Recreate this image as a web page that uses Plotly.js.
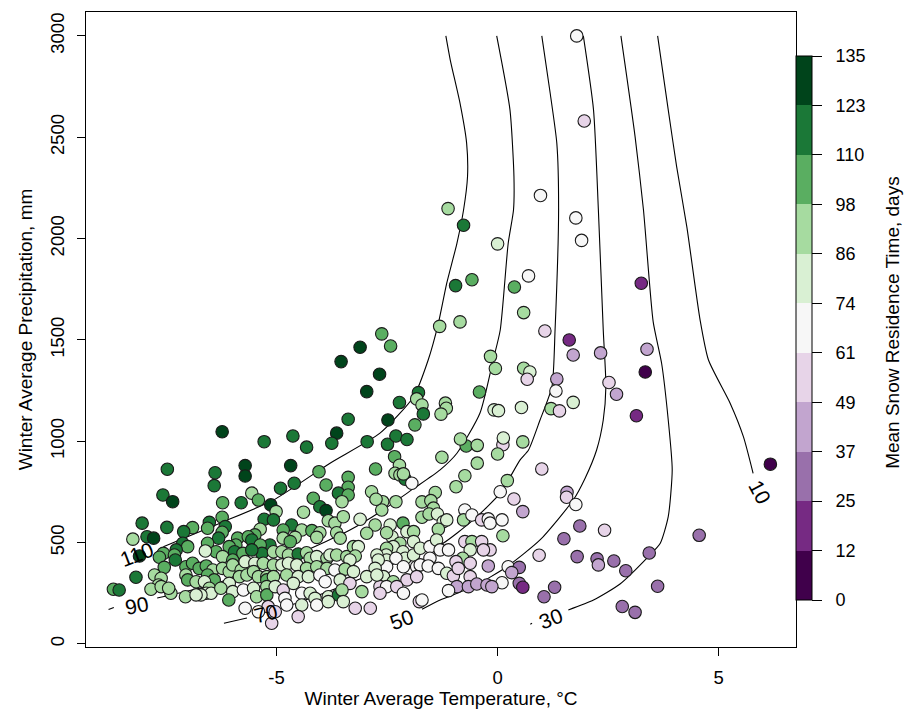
<!DOCTYPE html>
<html>
<head>
<meta charset="utf-8">
<script src="https://cdn.plot.ly/plotly-3.0.1.min.js"></script>
<style>html,body{margin:0;padding:0;background:#fff;}#chart{width:908px;height:712px;}</style>
</head>
<body>
<div id="chart"></div>
<script>
// ---------------- DATA ----------------
// Winter average temperature (°C) of each site
const winterTempC = [
  1.79,1.96,0.97,1.77,1.90,-1.12,-0.77,0.00,-0.95,-0.58,
  0.38,0.70,3.25,0.59,-0.85,-1.31,1.07,1.62,1.71,2.33,
  3.38,3.34,-0.16,-0.05,0.59,0.73,0.67,1.34,1.32,2.52,
  2.69,3.14,-0.41,-0.08,0.02,0.54,1.21,1.40,1.71,-1.79,
  -1.83,-1.71,-1.68,-1.18,-1.16,-1.28,
  1.00,1.57,1.56,1.77,1.86,2.42,1.50,0.94,1.80,2.25,
  2.28,2.63,2.90,3.43,4.56,3.62,2.82,3.11,1.29,1.05,
  6.17,
  -0.71,-0.46,-0.84,0.12,0.00,0.57,0.13,-2.33,-2.22,-2.32,
  -2.21,-2.09,-1.94,-1.26,-0.46,-0.74,-0.94,0.22,0.06,0.37,
  0.57,-1.41,-1.71,-1.51,-1.45,-2.30,-2.60,-2.62,-1.71,-1.55,
  -1.36,-1.23,-1.15,-1.34,-0.74,-0.77,-0.58,-0.36,-0.21,-0.17,
  0.10,0.12,-2.43,-2.14,-2.05,-1.90,-2.39,-1.90,-2.21,-2.36,
  -2.51,-2.52,-2.51,-2.14,-2.09,-1.90,-1.75,-1.53,-1.38,-1.53,
  -1.30,-1.11,-2.30,-0.74,-0.58,-0.36,-0.17,-0.32,-0.62,-0.79,
  -0.94,-0.62,-0.21,-2.51,-2.13,-1.83,-1.75,-1.57,-1.34,-1.15,
  -1.00,-0.89,-0.62,0.24,0.49,0.32,0.49,0.57,0.10,-0.92,
  -0.66,-0.47,-0.24,-0.13,-1.11,-2.58,-2.36,-2.05,-1.83,-2.66,
  -2.51,-2.28,-2.13,-1.77,-1.71,
  -2.62,-2.42,-3.11,-3.54,-2.67,-2.96,-2.22,-3.38,-2.48,-1.87,
  -6.23,-4.63,-3.64,-5.28,-4.32,-3.75,-2.95,-2.49,-2.30,-2.05,
  -2.76,-7.47,-6.39,-5.71,-5.71,-4.68,-4.04,-6.41,-4.60,-2.13,-3.38,
  -7.57,-7.35,-6.22,-5.80,-8.04,-7.48,-6.90,-7.10,-6.52,-6.56,
  -6.23,-6.16,-6.23,-6.31,-8.25,-7.93,-7.78,-7.12,-7.01,-7.27,
  -6.56,-6.37,-6.61,-5.88,-5.92,-6.07,-5.95,-8.10,-7.56,-7.31,
  -7.29,-7.65,-6.22,-5.99,-5.76,-7.54,-7.05,-6.90,-6.75,-6.59,
  -6.44,-6.56,-7.05,-7.76,-7.61,-7.67,-8.18,-7.01,-6.82,-6.41,
  -6.22,-6.07,-5.99,-5.80,-5.84,-6.63,-6.52,-6.59,-6.48,-6.07,
  -6.26,-5.99,-8.69,-8.56,-7.84,-7.61,-7.39,-7.44,-7.06,-6.71,-6.82,-6.08,
  -4.91,-3.88,-3.38,-3.60,-3.38,-3.52,-2.85,-2.75,-5.56,-5.41,
  -5.13,-4.17,-4.02,-3.88,-4.39,-5.01,-5.28,-5.07,-3.83,-3.68,
  -3.49,-3.11,-2.77,-4.66,-5.37,-5.49,-4.85,-4.43,-4.20,-4.02,
  -4.09,-3.64,-3.56,-2.96,-2.51,-5.64,-5.56,-5.15,-5.37,-5.33,
  -5.56,-5.07,-4.88,-4.73,-4.85,-4.58,-4.69,-4.51,-4.32,-4.24,
  -4.09,-3.86,-3.79,-3.64,-3.41,-3.26,-3.15,-3.22,-3.34,-2.73,
  -2.70,-2.77,-5.71,-5.49,-5.30,-5.07,-4.88,-4.73,-4.54,-4.32,
  -4.09,-3.86,-3.68,-3.45,-3.26,-2.96,-2.73,-5.67,-5.52,-5.41,
  -5.22,-5.22,-5.07,-4.77,-4.51,-4.28,-4.02,-3.90,-3.56,-3.34,
  -5.75,-5.52,-5.45,-5.22,-5.22,-5.03,-4.85,-4.81,-4.62,-4.43,
  -4.24,-4.13,-3.83,-3.60,-3.52,-3.07,-2.66,-4.77,-4.43,-4.09,
  -3.83,-3.49,-3.22,-2.88,-5.71,-5.19,-5.03,-5.41,-4.51,-5.11
];
// Winter average precipitation (mm) of each site
const winterPrecipMM = [
  3000,2580,2213,2102,1991,2148,2066,1974,1768,1797,
  1761,1816,1780,1635,1589,1567,1544,1500,1426,1436,
  1454,1342,1419,1359,1360,1342,1306,1307,1248,1290,
  1232,1126,1243,1155,1151,1167,1161,1150,1192,1240,
  1209,1179,1135,1188,1163,1134,
  863,748,724,688,582,561,519,438,431,420,
  390,409,361,449,536,285,185,156,280,233,
  887,
  977,980,1011,983,937,997,1016,924,882,842,
  834,813,793,921,892,830,776,806,751,715,
  653,747,701,707,670,702,702,661,625,641,
  641,603,612,566,661,612,636,612,617,596,
  612,534,587,596,554,554,529,505,497,480,
  472,439,414,455,423,439,472,480,513,423,
  464,464,423,505,505,505,464,464,464,423,
  406,398,385,381,381,381,390,385,373,349,
  336,373,332,381,378,352,299,280,302,283,
  283,296,291,283,263,332,307,316,332,283,
  283,283,250,209,217,
  1530,1470,1464,1393,1331,1245,1191,1109,1105,1081,
  1047,1026,1040,998,971,990,998,985,1026,1009,
  863,862,845,880,829,880,850,781,793,839,822,
  735,702,697,697,596,575,574,554,600,571,
  625,579,551,522,517,529,522,497,480,464,
  497,455,459,522,488,480,455,434,447,439,
  414,428,431,414,447,378,381,398,373,385,
  365,340,340,340,324,291,329,316,307,316,
  373,357,390,365,332,307,275,250,250,299,
  275,258,270,266,270,283,250,275,233,242,242,217,
  768,784,773,744,735,702,751,714,744,710,
  686,719,677,658,650,653,615,612,608,596,
  628,615,587,587,566,538,562,562,559,549,
  526,549,522,546,549,529,513,488,488,447,
  464,455,455,439,522,526,505,444,450,423,
  431,423,439,439,431,480,480,434,414,439,
  414,373,406,398,398,390,390,398,390,373,
  381,373,365,369,357,332,340,340,357,332,
  332,316,332,340,332,332,340,307,316,299,
  266,275,233,283,242,283,266,225,299,250,
  250,225,233,242,266,258,250,192,192,192,
  209,209,176,176,176,184,159,159,135,102
];
// Mean snow residence time (days) of each site
const snowResidenceDays = [
  67,55,67,67,67,92,116,80,116,104,
  104,67,18,92,92,92,55,18,43,43,
  43,6,92,92,92,80,55,43,67,55,
  43,18,104,80,80,80,92,55,80,116,
  92,92,116,92,92,92,
  55,43,55,67,31,55,31,55,31,31,
  43,31,31,31,31,31,31,31,31,31,
  6,
  104,92,92,55,92,92,80,104,92,92,
  92,116,67,92,92,92,92,92,67,55,
  43,92,92,92,92,92,92,92,92,92,
  80,80,80,92,67,92,67,55,67,67,
  67,92,80,104,80,92,80,80,92,80,
  92,80,80,80,80,80,80,67,80,67,
  67,67,67,55,92,55,55,55,80,92,
  55,55,43,67,67,67,67,67,67,80,
  55,55,55,67,31,43,31,18,67,43,
  43,43,43,43,67,80,92,55,55,55,
  67,55,67,55,67,
  104,104,129,129,129,129,116,116,129,104,
  129,116,129,116,116,116,116,116,116,116,
  104,116,116,129,129,129,104,116,116,92,104,
  116,129,104,116,116,116,104,116,116,104,
  104,116,104,116,92,116,129,116,104,116,
  104,104,80,104,104,104,116,129,104,104,
  116,104,92,104,104,104,104,104,104,104,
  92,104,92,92,92,92,116,104,92,104,
  92,92,92,92,92,80,92,80,80,80,
  92,80,104,116,92,92,92,92,92,80,80,104,
  116,104,104,116,104,92,92,92,92,104,
  129,104,116,129,92,92,116,116,92,92,
  92,80,92,116,92,104,104,92,104,92,
  92,92,92,92,92,104,116,116,104,116,
  116,92,92,92,92,92,104,116,92,92,
  80,92,80,92,92,92,80,92,80,80,
  80,80,80,80,92,92,80,80,80,92,
  92,92,67,92,80,80,80,92,92,92,
  92,104,92,92,80,80,67,67,80,55,
  67,80,92,92,104,80,55,67,80,67,
  80,80,80,116,92,92,55,67,80,67,
  80,80,55,55,67,55,55,67,55,55
];

// Contour lines of modelled residence time (days) (null = gap)
const contourLevels = ['110','90','70','50','30','10'];
const contour110X = [-1.17,-1.07,-0.85,-0.70,-0.68,-0.77,-0.92,-1.15,-1.34,-1.57,-1.90,-2.66,-3.79,-5.07,-6.28,-7.56];
const contour110Y = [3000,2881,2668,2470,2306,2141,1977,1780,1582,1401,1220,1040,892,710,596,480];
const contour90X = [-0.02,0.28,0.37,0.36,0.24,0.06,-0.10,-0.40,-0.92,-1.30,-1.91,-2.66,-3.34,-4.47,-5.60,-6.73,-7.70,null,-8.80,-8.68];
const contour90Y = [3000,2635,2306,2141,1977,1549,1401,1138,941,859,765,651,562,449,355,276,227,null,170,180];
const contour70X = [1.00,1.19,1.34,1.38,1.30,1.23,0.96,0.70,0.51,0.06,-0.55,-1.30,-1.91,-2.43,-3.40,-4.54,-4.81,null,-5.67,-6.19];
const contour70Y = [3000,2717,2470,2141,1549,1270,1105,957,908,744,612,488,449,385,296,202,183,null,128,102];
const contour50X = [1.94,2.17,2.28,2.39,2.45,2.39,2.24,1.98,1.71,0.96,0.21,-0.55,-1.30,-1.71];
const contour50Y = [3000,2635,2141,1549,1270,1105,957,818,710,513,381,283,217,171];
const contour30X = [2.79,3.11,3.30,3.52,3.71,3.86,3.95,3.86,3.68,3.41,2.77,2.17,1.60,null,0.74,0.78];
const contour30Y = [3000,2503,2141,1589,1385,1105,859,628,497,431,296,217,168,null,97,102];
const contour10X = [3.62,3.86,4.05,4.28,4.58,4.77,5.26,5.56,5.78];
const contour10Y = [3000,2635,2355,2059,1599,1401,1188,1023,842];
// Contour label anchors (data units) and their rotation
const contourLabelX = [-8.17,-8.17,-5.26,-2.17,1.20,5.92];
const contourLabelY = [442,192,150,120,126,750];
const contourLabelAngle = [-21,-11,-14,-20,-21,62];

// Axis ticks
const xTickVals = [-5,0,5];
const xTickText = ['-5','0','5'];
const yTickVals = [0,500,1000,1500,2000,2500,3000];
const yTickText = ['0','500','1000','1500','2000','2500','3000'];
// Colour-bar breaks (days) and labels
const cbarBreaks = [0,12.27,24.55,36.82,49.09,61.36,73.64,85.91,98.18,110.45,122.73,135];
const cbarLabels = ['0','12','25','37','49','61','74','86','98','110','123','135'];
const cbarTitle = 'Mean Snow Residence Time, days';

// ---------------- STYLE ----------------
const bandColors = ['#40004b','#762a83','#9970ab','#c2a5cf','#e7d4e8','#f7f7f7','#d9f0d3','#a6dba0','#5aae61','#1b7837','#00441b'];
const nb = bandColors.length;
const stepScale = [];
bandColors.forEach((c, i) => { stepScale.push([i / nb, c]); stepScale.push([(i + 1) / nb, c]); });
const FONT = 'Liberation Sans, Arial, Helvetica, sans-serif';

const lineStyle = {color: '#000', width: 1.1, shape: 'spline', smoothing: 0.6};
const contourSets = [
  [contour110X, contour110Y], [contour90X, contour90Y], [contour70X, contour70Y],
  [contour50X, contour50Y], [contour30X, contour30Y], [contour10X, contour10Y]
];
const traces = contourSets.map((s, i) => ({
  type: 'scatter', mode: 'lines', x: s[0], y: s[1], name: contourLevels[i],
  line: lineStyle, connectgaps: false, hoverinfo: 'skip', showlegend: false
}));

traces.push({
  type: 'scatter', mode: 'markers',
  x: winterTempC, y: winterPrecipMM,
  marker: {
    size: 12.5,
    color: snowResidenceDays,
    colorscale: stepScale, cmin: 0, cmax: 135,
    line: {color: '#1a1a1a', width: 1.1},
    showscale: true,
    colorbar: {
      thickness: 16, thicknessmode: 'pixels',
      len: 544, lenmode: 'pixels',
      x: 1, xanchor: 'left', xpad: 0,
      y: 0.9307, yanchor: 'top', ypad: 0,
      outlinewidth: 1, outlinecolor: '#000',
      tickmode: 'array', tickvals: cbarBreaks,
      ticktext: cbarLabels.map(t => '\u00a0\u00a0' + t),
      ticks: 'outside', ticklen: 10, tickwidth: 1, tickcolor: '#000',
      tickfont: {family: FONT, size: 18, color: '#000'},
      title: {text: ''}
    }
  },
  hoverinfo: 'skip', showlegend: false
});

const annotations = contourLevels.map((t, i) => ({
  x: contourLabelX[i], y: contourLabelY[i], xref: 'x', yref: 'y',
  text: t, showarrow: false, textangle: contourLabelAngle[i],
  font: {family: FONT, size: 21, color: '#000'}
}));
annotations.push({
  xref: 'paper', yref: 'paper', x: 1.1366, y: 0.512, xanchor: 'center', yanchor: 'middle',
  text: cbarTitle, showarrow: false, textangle: -90,
  font: {family: FONT, size: 19, color: '#000'}
});

const axisBase = {
  showgrid: false, zeroline: false, showline: true, mirror: true,
  linecolor: '#000', linewidth: 1, ticks: 'outside', ticklen: 8, tickwidth: 1, tickcolor: '#000',
  tickfont: {family: FONT, size: 18.5, color: '#000'}
};

const layout = {
  width: 908, height: 712,
  margin: {l: 86, r: 112, t: 12, b: 65, pad: 0},
  paper_bgcolor: '#fff', plot_bgcolor: '#fff',
  font: {family: FONT, size: 18, color: '#000'},
  showlegend: false,
  xaxis: Object.assign({}, axisBase, {
    range: [-9.31, 6.75], tickmode: 'array', tickvals: xTickVals, ticktext: xTickText,
    ticklabelstandoff: 6,
    title: {text: 'Winter Average Temperature, °C', font: {family: FONT, size: 19, color: '#000'}, standoff: 1}
  }),
  yaxis: Object.assign({}, axisBase, {
    range: [-15, 3118], tickmode: 'array', tickvals: yTickVals, ticktext: yTickText,
    tickangle: -90, ticklabelstandoff: 6,
    title: {text: 'Winter Average Precipitation, mm', font: {family: FONT, size: 19, color: '#000'}, standoff: 8}
  }),
  annotations: annotations
};

Plotly.newPlot('chart', traces, layout, {staticPlot: true, displayModeBar: false});
</script>
</body>
</html>
